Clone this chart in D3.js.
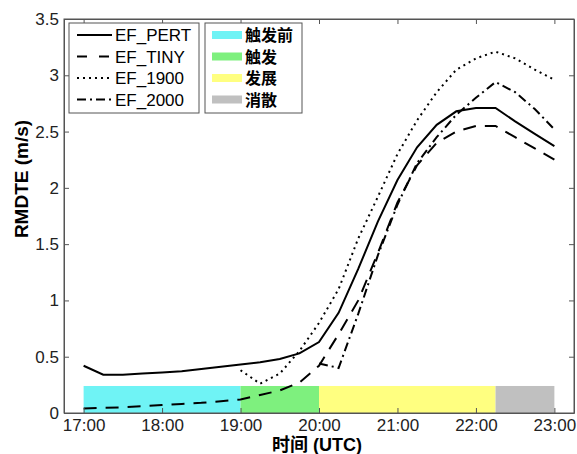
<!DOCTYPE html>
<html>
<head>
  <meta charset="utf-8">
  <script src="https://d3js.org/d3.v7.min.js"></script>
  <style>
    body { margin: 0; background: #fff; }
    svg { font-family: "Liberation Sans", Arial, sans-serif; }
    .tick text { font-size: 17px; fill: #222; }
    .axis path, .axis line { stroke: #555; }
  </style>
</head>
<body>
<svg id="chart"></svg>
<script>
// time axis ticks (hours UTC)
var tickHours = [17, 18, 19, 20, 21, 22, 23];
var tickLabels = ["17:00", "18:00", "19:00", "20:00", "21:00", "22:00", "23:00"];
var yTicks = [0, 0.5, 1, 1.5, 2, 2.5, 3, 3.5];

// sample times every 15 min
var timesAll = [17, 17.25, 17.5, 17.75, 18, 18.25, 18.5, 18.75, 19, 19.25, 19.5, 19.75,
  20, 20.25, 20.5, 20.75, 21, 21.25, 21.5, 21.75, 22, 22.25, 22.5, 22.75, 23];
var times1900 = timesAll.slice(8);
var times2000 = timesAll.slice(12);

var efPert = [0.42, 0.34, 0.34, 0.35, 0.36, 0.37, 0.39, 0.41, 0.43, 0.45, 0.48, 0.53,
  0.63, 0.89, 1.28, 1.70, 2.07, 2.36, 2.56, 2.68, 2.71, 2.71, 2.59, 2.48, 2.37];
var efTiny = [0.04, 0.045, 0.05, 0.06, 0.07, 0.08, 0.09, 0.105, 0.12, 0.16, 0.2, 0.27,
  0.42, 0.70, 1.0, 1.42, 1.87, 2.2, 2.4, 2.5, 2.55, 2.55, 2.45, 2.35, 2.25];
var ef1900 = [0.38, 0.26, 0.35, 0.55, 0.8, 1.1, 1.55, 1.92, 2.3, 2.6, 2.85, 3.05, 3.15,
  3.21, 3.15, 3.05, 2.96];
var ef2000 = [0.44, 0.40, 0.88, 1.4, 1.85, 2.22, 2.45, 2.65, 2.8, 2.94, 2.85, 2.7, 2.52];

var seriesNames = ["EF_PERT", "EF_TINY", "EF_1900", "EF_2000"];

// stage bands
var stageNames = ["触发前", "触发", "发展", "消散"];
var stageStart = [17, 19, 20, 22.25];
var stageEnd = [19, 20, 22.25, 23];
var stageColors = ["#6ff3f5", "#7ef07e", "#ffff80", "#c0c0c0"];
var stageTop = 0.24;

var width = 577, height = 454;
var margin = { top: 19, right: 3, bottom: 41, left: 64 };
var w = width - margin.left - margin.right,
  h = height - margin.top - margin.bottom;

var svg = d3.select("#chart").attr("width", width).attr("height", height);
var g = svg.append("g").attr("transform", "translate(" + margin.left + "," + margin.top + ")");

var x = d3.scaleLinear().domain([16.75, 23.25]).range([0, w]);
var y = d3.scaleLinear().domain([0, 3.5]).range([h, 0]);

// stage bands
g.selectAll(".band")
  .data(stageNames)
  .enter().append("rect")
  .attr("x", function (d, i) { return x(stageStart[i]); })
  .attr("width", function (d, i) { return x(stageEnd[i]) - x(stageStart[i]); })
  .attr("y", y(stageTop))
  .attr("height", h - y(stageTop))
  .attr("fill", function (d, i) { return stageColors[i]; });

// lines
var dashes = [null, "13,9", "2,4", "9,4,2,4"];
var lineData = [
  timesAll.map(function (t, i) { return [t, efPert[i]]; }),
  timesAll.map(function (t, i) { return [t, efTiny[i]]; }),
  times1900.map(function (t, i) { return [t, ef1900[i]]; }),
  times2000.map(function (t, i) { return [t, ef2000[i]]; })
];
var line = d3.line().x(function (d) { return x(d[0]); }).y(function (d) { return y(d[1]); });

g.selectAll(".series")
  .data(lineData)
  .enter().append("path")
  .attr("d", line)
  .attr("fill", "none")
  .attr("stroke", "#000")
  .attr("stroke-width", 2)
  .attr("stroke-dasharray", function (d, i) { return dashes[i]; });

// axes (MATLAB-like: ticks inward, box)
var xAxis = d3.axisBottom(x).tickValues(tickHours)
  .tickFormat(function (d, i) { return tickLabels[i]; })
  .tickSizeInner(-5).tickSizeOuter(0).tickPadding(6);
g.append("g").attr("class", "axis").attr("transform", "translate(0," + h + ")").call(xAxis);
g.append("g").attr("class", "axis")
  .call(d3.axisTop(x).tickValues(tickHours).tickFormat("").tickSizeInner(-5).tickSizeOuter(0));

var yAxis = d3.axisLeft(y).tickValues(yTicks).tickFormat(d3.format("~g"))
  .tickSizeInner(-5).tickSizeOuter(0).tickPadding(5);
g.append("g").attr("class", "axis").call(yAxis);
g.append("g").attr("class", "axis").attr("transform", "translate(" + w + ",0)")
  .call(d3.axisRight(y).tickValues(yTicks).tickFormat("").tickSizeInner(-5).tickSizeOuter(0));

g.selectAll(".axis .domain").attr("stroke", "#555");
g.append("rect").attr("width", w).attr("height", h)
  .attr("fill", "none").attr("stroke", "#555").attr("stroke-width", 1);

// axis titles
svg.append("text")
  .attr("x", 317).attr("y", 451)
  .attr("text-anchor", "middle")
  .style("font-size", "18px").style("font-weight", "bold")
  .style("font-family", "'Liberation Sans', 'Noto Sans CJK SC', sans-serif")
  .text("时间 (UTC)");
svg.append("text")
  .attr("transform", "translate(28,179) rotate(-90)")
  .attr("text-anchor", "middle")
  .style("font-size", "19px").style("font-weight", "bold")
  .text("RMDTE (m/s)");

// legend 1: line styles
var leg1 = svg.append("g").attr("transform", "translate(69,23)");
leg1.append("rect").attr("width", 130).attr("height", 90)
  .attr("fill", "#fff").attr("stroke", "#555");
seriesNames.forEach(function (name, i) {
  var yy = 12 + i * 21.5;
  leg1.append("line").attr("x1", 8).attr("x2", 43).attr("y1", yy).attr("y2", yy)
    .attr("stroke", "#000").attr("stroke-width", 2)
    .attr("stroke-dasharray", dashes[i] === "13,9" ? "10,12" : dashes[i]);
  leg1.append("text").attr("x", 46).attr("y", yy + 6)
    .style("font-size", "17px").text(name);
});

// legend 2: stages
var leg2 = svg.append("g").attr("transform", "translate(205,23)");
leg2.append("rect").attr("width", 97).attr("height", 90)
  .attr("fill", "#fff").attr("stroke", "#555");
stageNames.forEach(function (name, i) {
  var yy = 12 + i * 21.5;
  leg2.append("rect").attr("x", 7).attr("y", yy - 4).attr("width", 30).attr("height", 8)
    .attr("fill", stageColors[i]);
  leg2.append("text").attr("x", 40).attr("y", yy + 6)
    .style("font-size", "16px").style("font-weight", "bold")
    .style("font-family", "'Liberation Sans', 'Noto Sans CJK SC', sans-serif")
    .text(name);
});
</script>
</body>
</html>
